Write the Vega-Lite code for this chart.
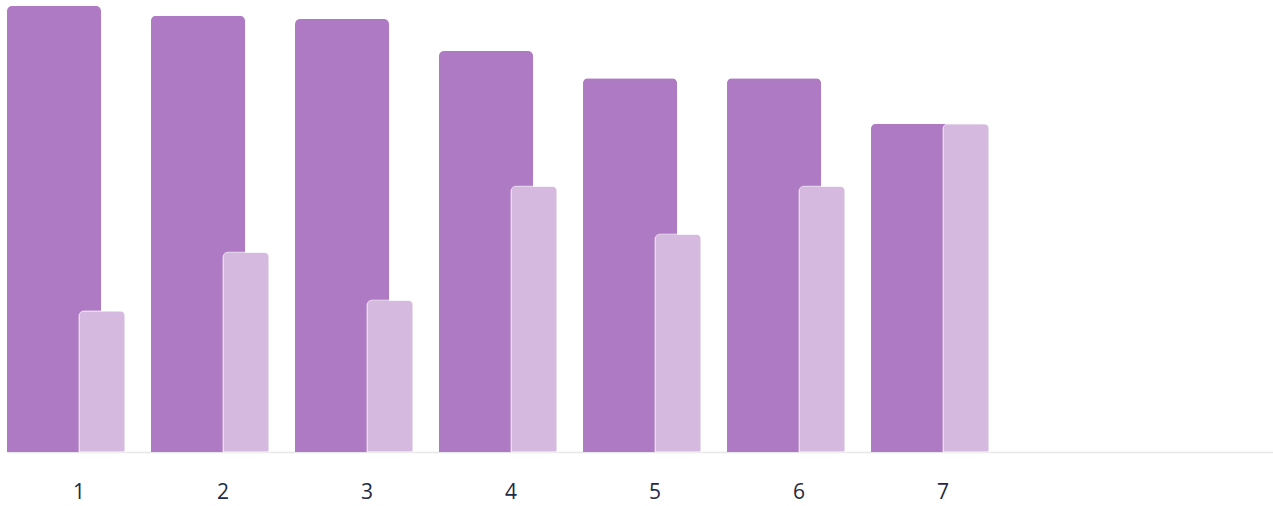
{
  "$schema": "https://vega.github.io/schema/vega-lite/v6.json",
  "width": 1266,
  "height": 452,
  "autosize": {"type": "none"},
  "padding": {"left": 7, "top": 0, "right": 0, "bottom": 54},
  "background": "#ffffff",
  "config": {"view": {"stroke": null}},
  "data": {
    "values": [
      {"cat": "1", "first": 98.7, "second": 31.2},
      {"cat": "2", "first": 96.5, "second": 44.2},
      {"cat": "3", "first": 95.8, "second": 33.6},
      {"cat": "4", "first": 88.7, "second": 58.8},
      {"cat": "5", "first": 82.7, "second": 48.2},
      {"cat": "6", "first": 82.7, "second": 58.8},
      {"cat": "7", "first": 72.6, "second": 72.6}
    ]
  },
  "encoding": {
    "x": {
      "field": "cat",
      "type": "ordinal",
      "scale": {"paddingInner": 0, "paddingOuter": 0.8958, "align": 0},
      "axis": {
        "title": null,
        "labelAngle": 0,
        "ticks": false,
        "grid": false,
        "domainColor": "#e8e8e8",
        "domainWidth": 1.5,
        "labelFont": "Open Sans",
        "labelFontSize": 21,
        "labelColor": "#1f2a44",
        "labelPadding": 29
      }
    }
  },
  "layer": [
    {
      "mark": {
        "type": "bar",
        "width": 94,
        "xOffset": -25,
        "color": "#ae7ac4",
        "cornerRadiusTopLeft": 5,
        "cornerRadiusTopRight": 5
      },
      "encoding": {
        "y": {"field": "first", "type": "quantitative", "scale": {"domain": [0, 100], "nice": false}, "axis": null}
      }
    },
    {
      "mark": {
        "type": "bar",
        "width": 46,
        "xOffset": 23,
        "color": "#d5b9df",
        "stroke": "#ffffff",
        "strokeWidth": 1,
        "strokeOpacity": 0.6,
        "cornerRadiusTopLeft": 5,
        "cornerRadiusTopRight": 5
      },
      "encoding": {
        "y": {"field": "second", "type": "quantitative", "scale": {"domain": [0, 100], "nice": false}, "axis": null}
      }
    }
  ]
}
